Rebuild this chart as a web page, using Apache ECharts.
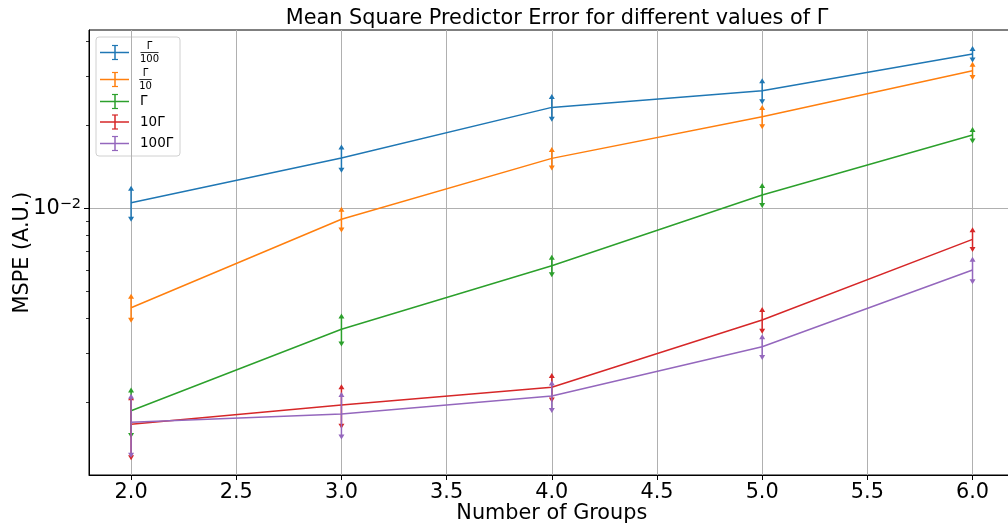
<!DOCTYPE html>
<html>
<head>
<meta charset="utf-8">
<script src="https://cdn.jsdelivr.net/npm/echarts@6/dist/echarts.min.js"></script>
<style>html,body{margin:0;padding:0;background:#fff}#c{width:1008px;height:529px}</style>
</head>
<body>
<div id="c"></div>
<script>
// ---- data ----
const groups = [2, 3, 4, 5, 6];
const seriesNames = ['Γ/100', 'Γ/10', 'Γ', '10Γ', '100Γ'];
const colors = ['#1f77b4', '#ff7f0e', '#2ca02c', '#d62728', '#9467bd'];
const msGammaDiv100 = [0.01047, 0.01519, 0.02315, 0.02657, 0.03606];
const errGammaDiv100 = [0.0013, 0.0014, 0.0021, 0.0022, 0.0016];
const msGammaDiv10 = [0.004377, 0.00913, 0.01515, 0.02141, 0.03139];
const errGammaDiv10 = [0.00042, 0.00075, 0.0011, 0.0016, 0.0016];
const msGamma = [0.001859, 0.003657, 0.006206, 0.01117, 0.01839];
const errGamma = [0.00034, 0.00041, 0.00043, 0.00088, 0.0008];
const msGammaX10 = [0.001661, 0.00195, 0.002259, 0.003951, 0.007727];
const errGammaX10 = [0.0004, 0.00031, 0.00022, 0.00034, 0.0006];
const msGammaX100 = [0.001689, 0.001809, 0.002101, 0.003165, 0.005988];
const errGammaX100 = [0.0004, 0.00031, 0.00023, 0.00026, 0.00053];
const xTicks = [2.0, 2.5, 3.0, 3.5, 4.0, 4.5, 5.0, 5.5, 6.0];
const yMajorTicks = [0.01];
const yMinorTicks = [0.002, 0.003, 0.004, 0.005, 0.006, 0.007, 0.008, 0.009, 0.02, 0.03, 0.04];
const xRange = [1.8, 6.2];
const yRange = [0.001089, 0.04406];

const means = [msGammaDiv100, msGammaDiv10, msGamma, msGammaX10, msGammaX100];
const errs = [errGammaDiv100, errGammaDiv10, errGamma, errGammaX10, errGammaX100];

const FONT = 'DejaVu Sans';
const BIG = 20.8;
const chart = echarts.init(document.getElementById('c'), null, {renderer: 'canvas'});

const series = [];
means.forEach((m, i) => {
  series.push({
    type: 'line', name: seriesNames[i], xAxisIndex: 0, yAxisIndex: 0,
    data: groups.map((g, k) => [g, m[k]]),
    showSymbol: false, symbol: 'none', silent: true,
    lineStyle: {color: colors[i], width: 1.5}, z: 3 + i * 2
  });
  series.push({
    type: 'custom', name: seriesNames[i] + ' err', xAxisIndex: 0, yAxisIndex: 0,
    data: groups.map((g, k) => [g, m[k] - errs[i][k], m[k] + errs[i][k]]),
    silent: true, z: 4 + i * 2,
    renderItem: function (params, api) {
      const lo = api.coord([api.value(0), api.value(1)]);
      const hi = api.coord([api.value(0), api.value(2)]);
      const c = colors[i];
      const w = 3, h = 5;
      return {
        type: 'group', children: [
          {type: 'line', shape: {x1: lo[0], y1: lo[1], x2: hi[0], y2: hi[1]}, style: {stroke: c, lineWidth: 1.5}},
          {type: 'polygon', shape: {points: [[hi[0] - w, hi[1] + 2], [hi[0] + w, hi[1] + 2], [hi[0], hi[1] - h + 2]]}, style: {fill: c}},
          {type: 'polygon', shape: {points: [[lo[0] - w, lo[1] - 2], [lo[0] + w, lo[1] - 2], [lo[0], lo[1] + h - 2]]}, style: {fill: c}}
        ]
      };
    }
  });
});

// legend built with graphic elements
const legX = 96, legY = 37;
const rowY = [52.5, 79.5, 101.5, 122, 143.5];
const legendChildren = [{
  type: 'rect', shape: {x: legX, y: legY, width: 84, height: 119, r: 3},
  style: {fill: 'rgba(255,255,255,0.8)', stroke: '#d0d0d0', lineWidth: 1}
}];
rowY.forEach((y, i) => {
  const c = colors[i];
  legendChildren.push(
    {type: 'line', shape: {x1: 100, y1: y, x2: 129, y2: y}, style: {stroke: c, lineWidth: 1.5}},
    {type: 'line', shape: {x1: 115, y1: y - 7, x2: 115, y2: y + 7}, style: {stroke: c, lineWidth: 1.5}},
    {type: 'line', shape: {x1: 112, y1: y - 7, x2: 118, y2: y - 7}, style: {stroke: c, lineWidth: 1.2}},
    {type: 'line', shape: {x1: 112, y1: y + 7, x2: 118, y2: y + 7}, style: {stroke: c, lineWidth: 1.2}}
  );
});
function fraction(num, den, cx, y, width) {
  return [
    {type: 'text', style: {text: num, x: cx, y: y - 1.5, font: '10px "' + FONT + '"', fill: '#000', align: 'center', verticalAlign: 'bottom'}},
    {type: 'line', shape: {x1: cx - width / 2, y1: y, x2: cx + width / 2, y2: y}, style: {stroke: '#000', lineWidth: 0.8}},
    {type: 'text', style: {text: den, x: cx, y: y + 1.5, font: '10px "' + FONT + '"', fill: '#000', align: 'center', verticalAlign: 'top'}}
  ];
}
const fr0 = seriesNames[0].split('/');
const fr1 = seriesNames[1].split('/');
legendChildren.push(...fraction(fr0[0], fr0[1], 149.5, rowY[0], 18));
legendChildren.push(...fraction(fr1[0], fr1[1], 145.5, rowY[1], 12.5));
[2, 3, 4].forEach(i => {
  legendChildren.push({type: 'text', style: {text: seriesNames[i], x: 140, y: rowY[i], font: '13.5px "' + FONT + '"', fill: '#000', verticalAlign: 'middle'}});
});

const option = {
  backgroundColor: '#fff',
  animation: false,
  textStyle: {fontFamily: FONT},
  title: {
    text: 'Mean Square Predictor Error for different values of Γ',
    left: 552, top: 3, textAlign: 'center',
    textStyle: {fontFamily: FONT, fontSize: BIG, fontWeight: 'normal', color: '#000'}
  },
  grid: {left: 89, top: 30, right: -6.6, bottom: 54, show: true, borderColor: '#000', borderWidth: 1,
         backgroundColor: 'transparent', containLabel: false, outerBoundsMode: 'none'},
  xAxis: {
    type: 'value', min: xRange[0], max: xRange[1],
    name: 'Number of Groups', nameLocation: 'middle', nameGap: 28, nameMoveOverlap: false,
    nameTextStyle: {fontFamily: FONT, fontSize: BIG, color: '#000', verticalAlign: 'top'},
    axisLine: {show: true, onZero: false, lineStyle: {color: '#000', width: 1}},
    axisTick: {show: true, customValues: xTicks, length: 5, inside: false, lineStyle: {color: '#000', width: 1}},
    axisLabel: {customValues: xTicks, formatter: v => Number(v).toFixed(1), fontFamily: FONT, fontSize: BIG, color: '#000', margin: 7},
    splitLine: {show: true, lineStyle: {color: '#b0b0b0', width: 1}}
  },
  yAxis: [{
    type: 'log', logBase: 10, min: yRange[0], max: yRange[1],
    name: 'MSPE (A.U.)', nameLocation: 'middle', nameGap: 56, nameRotate: 90, nameMoveOverlap: false,
    nameTextStyle: {fontFamily: FONT, fontSize: BIG, color: '#000'},
    axisLine: {show: true, lineStyle: {color: '#000', width: 1}},
    axisTick: {show: true, customValues: yMajorTicks, length: 5, inside: false, lineStyle: {color: '#000', width: 1}},
    axisLabel: {
      customValues: yMajorTicks, margin: 8,
      formatter: v => '{b|10}{s|−2}',
      rich: {
        b: {fontFamily: FONT, fontSize: BIG, color: '#000', lineHeight: 24},
        s: {fontFamily: FONT, fontSize: 14.5, color: '#000', verticalAlign: 'top', lineHeight: 15}
      }
    },
    splitLine: {show: true, lineStyle: {color: '#b0b0b0', width: 1}},
    minorTick: {show: false}
  }, {
    type: 'log', logBase: 10, min: yRange[0], max: yRange[1], position: 'left',
    axisLine: {show: false},
    axisTick: {show: true, customValues: yMinorTicks, length: 3, inside: false, lineStyle: {color: '#000', width: 0.8}},
    axisLabel: {show: false},
    splitLine: {show: false}
  }],
  series: series,
  graphic: [{type: 'group', z: 100, children: legendChildren}]
};
chart.setOption(option);
</script>
</body>
</html>
